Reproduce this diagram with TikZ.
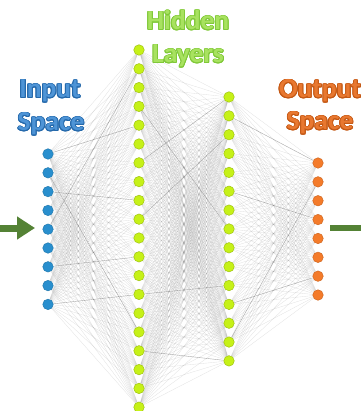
\documentclass[tikz,border=0pt]{standalone}
\usepackage{fontspec}
\setmainfont{Carlito}
\usepackage[copies]{contour}
\usetikzlibrary{arrows.meta,backgrounds}

\definecolor{inblue}{RGB}{41,143,206}
\definecolor{hidgreen}{RGB}{198,241,23}
\definecolor{outorange}{RGB}{244,123,42}
\definecolor{intext}{RGB}{78,148,214}
\definecolor{inedge}{RGB}{36,104,170}
\definecolor{hidtext}{RGB}{168,226,96}
\definecolor{hidedge}{RGB}{128,200,56}
\definecolor{outtext}{RGB}{232,120,48}
\definecolor{outedge}{RGB}{196,88,20}
\definecolor{flowgreen}{RGB}{84,130,53}

\contourlength{0.9pt}

\tikzset{
  neuron/.style={circle, minimum size=10.5pt, inner sep=0pt, line width=0.5pt},
  inneuron/.style={neuron, fill=inblue, draw=inblue!85!black},
  hidneuron/.style={neuron, fill=hidgreen, draw=hidgreen!80!black},
  outneuron/.style={neuron, fill=outorange, draw=outorange!85!black},
  link/.style={draw=gray, opacity=0.22, line width=0.35pt},
  strong/.style={draw=gray!70!black, opacity=0.4, line width=0.4pt},
  layertext/.style={font=\bfseries\fontsize{27.5}{33}\selectfont, anchor=base, inner sep=0pt},
  flow/.style={draw=flowgreen, line width=7pt},
}

\begin{document}
\begin{tikzpicture}[x=1pt, y=-1pt]
    \useasboundingbox (0,0) rectangle (360,411);
    % layer titles
    \node[layertext, text=intext] (inTop) at (50,98) {\contour{inedge}{Input}};
    \node[layertext, text=intext] (inBot) at (51,131) {\contour{inedge}{Space}};
    \node[layertext, text=hidtext] (hidTop) at (188,30) {\contour{hidedge}{Hidden}};
    \node[layertext, text=hidtext] (hidBot) at (188,63) {\contour{hidedge}{Layers}};
    \node[layertext, text=outtext] (outTop) at (320,98) {\contour{outedge}{Output}};
    \node[layertext, text=outtext] (outBot) at (320,130) {\contour{outedge}{Space}};
    % neurons
    \foreach \k in {1,...,9}
        \node[inneuron] (i\k) at (48, 154+18.8*\k-18.8) {};
    \foreach \k in {1,...,20}
        \node[hidneuron] (a\k) at (139, 50+18.8*\k-18.8) {};
    \foreach \k in {1,...,15}
        \node[hidneuron] (b\k) at (229, 97+18.85*\k-18.85) {};
    \foreach \k in {1,...,8}
        \node[outneuron] (o\k) at (318, 163+18.86*\k-18.86) {};
    % connections
    \begin{scope}[on background layer]
        \foreach \k in {1,...,9}
            \foreach \m in {1,...,20}
                \draw[link] (i\k) -- (a\m);
        \foreach \k in {1,...,20}
            \foreach \m in {1,...,15}
                \draw[link] (a\k) -- (b\m);
        \foreach \k in {1,...,15}
            \foreach \m in {1,...,8}
                \draw[link] (b\k) -- (o\m);
        % a few stronger weights
        \draw[strong] (i1) -- (a5);
        \draw[strong] (i3) -- (a9);
        \draw[strong] (i5) -- (a2);
        \draw[strong] (i7) -- (a12);
        \draw[strong] (i9) -- (a14);
        \draw[strong] (i2) -- (a16);
        \draw[strong] (a17) -- (b15);
        \draw[strong] (a4) -- (b8);
        \draw[strong] (a10) -- (b3);
        \draw[strong] (a14) -- (b11);
        \draw[strong] (a7) -- (b1);
        \draw[strong] (b2) -- (o1);
        \draw[strong] (b6) -- (o4);
        \draw[strong] (b12) -- (o7);
        \draw[strong] (b14) -- (o2);
    \end{scope}
    % data flow in and out
    \coordinate (flowInStart) at (0,228);
    \coordinate (flowInEnd) at (35,228);
    \coordinate (flowOutStart) at (330,228);
    \coordinate (flowOutEnd) at (365,228);
    \draw[flow, -{Triangle[length=18pt,width=22pt]}] (flowInStart) -- (flowInEnd);
    \draw[flow, line width=6pt] (flowOutStart) -- (flowOutEnd);
\end{tikzpicture}
\end{document}
